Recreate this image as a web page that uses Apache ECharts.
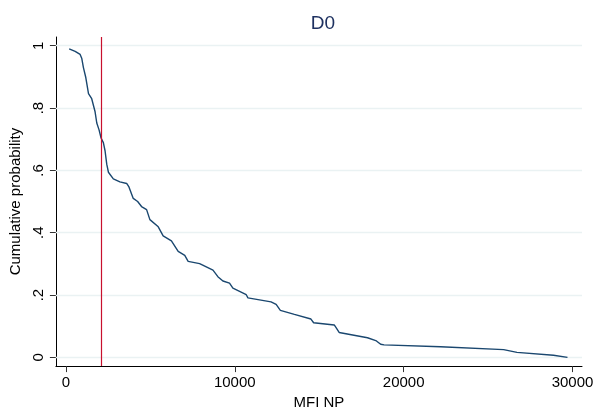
<!DOCTYPE html>
<html>
<head>
<meta charset="utf-8">
<script src="https://cdn.jsdelivr.net/npm/echarts@6/dist/echarts.min.js"></script>
<style>html,body{margin:0;padding:0;background:#fff}#c{width:598px;height:415px}</style>
</head>
<body>
<div id="c"></div>
<script>
const titleText = "D0";
const xTitle = "MFI NP";
const yTitle = "Cumulative probability";
const xTicks = [0, 10000, 20000, 30000];
const yTicks = [0, 0.2, 0.4, 0.6, 0.8, 1];
const yTickLabels = ["0", ".2", ".4", ".6", ".8", "1"];
const refLineX = 2080;
const mfi = [195, 550, 845, 944, 1040, 1180, 1340, 1530, 1730, 1830, 1965, 2085, 2220, 2320, 2420, 2520,
  2810, 3200, 3600, 3735, 3990, 4250, 4480, 4780, 4975, 5470, 5760, 6250, 6650, 7040, 7240, 7920,
  8710, 9000, 9300, 9690, 9890, 10680, 10780, 12150, 12450, 12700, 13530, 14510, 14670, 15890,
  15990, 16180, 17860, 18350, 18640, 18840, 22180, 25920, 26710, 28870, 29700];
const cumProb = [0.990, 0.982, 0.972, 0.959, 0.930, 0.898, 0.846, 0.830, 0.788, 0.752, 0.730, 0.704, 0.689, 0.663, 0.620, 0.594,
  0.573, 0.563, 0.558, 0.547, 0.510, 0.500, 0.484, 0.474, 0.442, 0.419, 0.390, 0.374, 0.340, 0.327, 0.308, 0.301,
  0.280, 0.259, 0.245, 0.238, 0.222, 0.201, 0.191, 0.178, 0.170, 0.151, 0.138, 0.123, 0.111, 0.104,
  0.096, 0.080, 0.063, 0.054, 0.042, 0.040, 0.034, 0.025, 0.016, 0.007, 0.000];

const chart = echarts.init(document.getElementById('c'), null, {renderer: 'canvas'});
const font = "Liberation Sans";
function yLabel(v) {
  let best = 0;
  yTicks.forEach((t, i) => { if (Math.abs(t - v) < Math.abs(yTicks[best] - v)) best = i; });
  return yTickLabels[best];
}
chart.setOption({
  animation: false,
  backgroundColor: '#ffffff',
  title: {text: titleText, left: 318, top: 9, textAlign: 'center',
    textStyle: {fontFamily: font, fontSize: 19, fontWeight: 'normal', color: '#1e3160'}},
  grid: {left: 54, right: 16, top: 37, bottom: 42, containLabel: false},
  xAxis: {
    type: 'value', min: -590, max: 30560,
    name: xTitle, nameLocation: 'middle', nameGap: 25,
    nameTextStyle: {fontFamily: font, fontSize: 15, color: '#000'},
    axisLine: {show: true, onZero: false, lineStyle: {color: '#000', width: 1}},
    axisTick: {show: true, length: 6, customValues: xTicks, lineStyle: {color: '#333'}},
    axisLabel: {customValues: xTicks, fontFamily: font, fontSize: 15, color: '#000', margin: 9,
      formatter: v => String(v)},
    splitLine: {show: false}
  },
  yAxis: {
    type: 'value', min: -0.028, max: 1.028,
    name: yTitle, nameLocation: 'middle', nameGap: 27, nameRotate: 90,
    nameTextStyle: {fontFamily: font, fontSize: 15, color: '#000'},
    axisLine: {show: true, onZero: false, lineStyle: {color: '#000', width: 1}},
    axisTick: {show: true, length: 6, customValues: yTicks, lineStyle: {color: '#333'}},
    axisLabel: {customValues: yTicks, rotate: 90, fontFamily: font, fontSize: 15, color: '#000', margin: 10,
      showMinLabel: true, showMaxLabel: true, hideOverlap: false,
      formatter: v => yLabel(v)},
    splitLine: {show: false}
  },
  series: [
    {
      type: 'line', data: [], z: 1,
      markLine: {
        silent: true, symbol: 'none', label: {show: false}, z: 1,
        data: yTicks.map(v => ({yAxis: v})),
        lineStyle: {color: '#eaf2f3', width: 1.3, type: 'solid'}
      }
    },
    {
      type: 'line', data: mfi.map((x, i) => [x, cumProb[i]]),
      showSymbol: false, symbol: 'none',
      lineStyle: {color: '#1a476f', width: 1.4},
      z: 6
    },
    {
      type: 'line', data: [], z: 7,
      markLine: {
        silent: true, symbol: 'none', label: {show: false}, z: 7,
        data: [{xAxis: refLineX}],
        lineStyle: {color: '#c8102e', width: 1.2, type: 'solid'}
      }
    }
  ]
});
</script>
</body>
</html>
